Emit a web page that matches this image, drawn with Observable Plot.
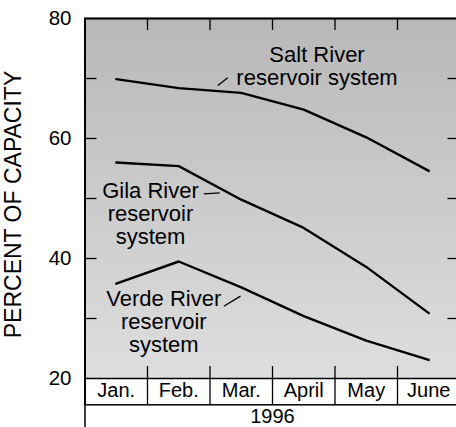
<!DOCTYPE html>
<html><head><meta charset="utf-8">
<script src="https://cdn.jsdelivr.net/npm/d3@7"></script>
<script src="https://cdn.jsdelivr.net/npm/@observablehq/plot@0.6"></script>
<style>body{margin:0;background:#fff} svg{display:block}</style>
</head><body><div id="chart"></div>
<script>
// ---- data ----
const months = ["Jan.", "Feb.", "Mar.", "April", "May", "June"];
const year = "1996";
const salt  = [69.9, 68.4, 67.6, 64.8, 60.2, 54.6];
const gila  = [56.0, 55.4, 49.8, 45.1, 38.6, 30.9];
const verde = [35.8, 39.5, 35.2, 30.4, 26.3, 23.1];
const yLabelTicks = [20, 40, 60, 80];
const yInnerTicks = [30, 40, 50, 60, 70];
const yTitle = "PERCENT OF CAPACITY";
const seriesLabels = ["Salt River\nreservoir system", "Gila River\nreservoir\nsystem", "Verde River\nreservoir\nsystem"];

// annotation anchors (month index, percent)
const labelAnchors = [{x: 3.212, y: 75.43}, {x: 0.548, y: 52.82}, {x: 0.761, y: 34.77}];
const leaders = [
  {x1: 1.625, y1: 68.83, x2: 1.785, y2: 70.12},
  {x1: 1.401, y1: 50.78, x2: 1.657, y2: 50.95},
  {x1: 1.721, y1: 32.05, x2: 1.988, y2: 33.72}
];

const series = [["Salt", salt], ["Gila", gila], ["Verde", verde]];
const rows = series.flatMap(([name, vals]) => vals.map((v, i) => ({name, i, v})));
const bounds = d3.range(months.length + 1).map(i => i - 0.5);
const labels = seriesLabels.map((t, k) => ({text: t, ...labelAnchors[k]}));

const plot = Plot.plot({
  width: 456,
  height: 427,
  marginLeft: 84.5,
  marginRight: -3.5,
  marginTop: 18,
  marginBottom: 49,
  style: {fontFamily: "'Liberation Sans', Arial, Helvetica, sans-serif", color: "black", background: "white", overflow: "hidden"},
  x: {type: "linear", domain: [-0.5, months.length - 0.5], axis: null},
  y: {domain: [20, 80], axis: null},
  marks: [
    Plot.frame({fill: "url(#bg)", stroke: null}),
    // inner ticks left / right
    Plot.tickY(yInnerTicks, {y: d => d, insetRight: 363, stroke: "black", strokeWidth: 1.3}),
    Plot.tickY(yInnerTicks, {y: d => d, insetLeft: 363, stroke: "black", strokeWidth: 1.3}),
    // top ticks
    Plot.tickX(bounds, {x: d => d, insetBottom: 348, stroke: "black", strokeWidth: 1.3}),
    // bottom inner ticks continuing as month separators
    Plot.tickX(bounds, {x: d => d, insetTop: 348, insetBottom: -26.3, stroke: "black", strokeWidth: 1.3}),
    // data lines
    Plot.line(rows, {x: "i", y: "v", z: "name", stroke: "black", strokeWidth: 2.4, strokeLinejoin: "round"}),
    // leaders
    Plot.link(leaders, {x1: "x1", y1: "y1", x2: "x2", y2: "y2", stroke: "black", strokeWidth: 1.3}),
    // series labels
    Plot.text(labels, {x: "x", y: "y", text: "text", lineAnchor: "top", lineHeight: 1.05, fontSize: 22, fill: "black"}),
    // frames
    Plot.frame({stroke: "black", strokeWidth: 1.5, insetBottom: -26.3}),
    Plot.frame({stroke: "black", strokeWidth: 1.5, insetBottom: -60}),
    Plot.frame({stroke: "black", strokeWidth: 1.5}),
    // month labels
    Plot.text(months, {x: (d, i) => i, text: d => d, frameAnchor: "bottom", lineAnchor: "middle", textAnchor: "middle", dy: 12.4, fontSize: 20, fill: "black"}),
    // year
    Plot.text([year], {text: d => d, frameAnchor: "bottom", lineAnchor: "middle", textAnchor: "middle", dy: 38.3, fontSize: 20, fill: "black"}),
    // y tick labels
    Plot.text(yLabelTicks, {y: d => d, text: d => String(d), frameAnchor: "left", lineAnchor: "middle", dx: -13.5, textAnchor: "end", fontSize: 20.5, fill: "black"}),
    // y title
    Plot.text([yTitle], {text: d => d, frameAnchor: "left", lineAnchor: "middle", textAnchor: "middle", dx: -71.5, dy: 6, rotate: -90, fontSize: 23, fill: "black"})
  ]
});

const ns = "http://www.w3.org/2000/svg";
const defs = document.createElementNS(ns, "defs");
const grad = document.createElementNS(ns, "linearGradient");
grad.setAttribute("id", "bg");
grad.setAttribute("x1", "0"); grad.setAttribute("y1", "0");
grad.setAttribute("x2", "0"); grad.setAttribute("y2", "1");
[["0", "#b8b8b8"], ["1", "#dedede"]].forEach(([o, c]) => {
  const s = document.createElementNS(ns, "stop");
  s.setAttribute("offset", o); s.setAttribute("stop-color", c);
  grad.appendChild(s);
});
defs.appendChild(grad);
plot.insertBefore(defs, plot.firstChild);
document.getElementById("chart").appendChild(plot);
</script>
</body></html>
